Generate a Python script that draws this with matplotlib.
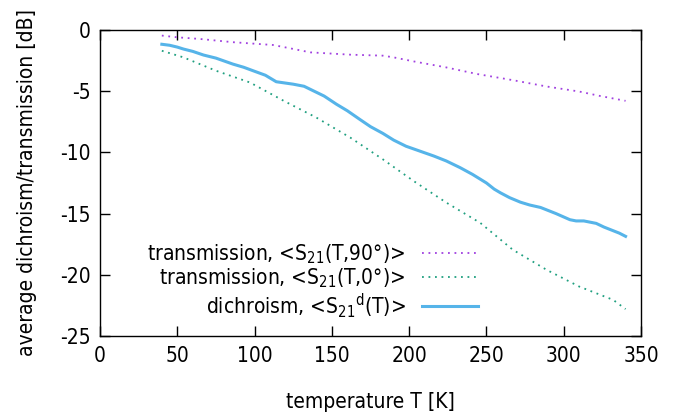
import matplotlib
matplotlib.use("Agg")
import matplotlib.pyplot as plt

# ---- data ----
T_dich = [40, 45, 50, 54, 60, 67, 75, 86, 93, 99, 107, 114, 125, 132, 138, 145, 153, 160,
          168, 175, 183, 190, 198, 207, 216, 224, 233, 241, 250, 255, 259, 265, 272, 278,
          285, 295, 304, 308, 313, 321, 326, 330, 336, 340]
S_dich = [-1.17, -1.25, -1.4, -1.56, -1.75, -2.05, -2.3, -2.79, -3.05, -3.33, -3.7, -4.23,
          -4.43, -4.6, -4.97, -5.4, -6.07, -6.6, -7.3, -7.9, -8.45, -9.0, -9.5, -9.9, -10.3,
          -10.7, -11.25, -11.8, -12.5, -13.0, -13.3, -13.7, -14.07, -14.3, -14.5, -15.0,
          -15.5, -15.6, -15.6, -15.8, -16.1, -16.3, -16.6, -16.86]

T_0 = [40, 54, 75, 97, 119, 140, 162, 183, 203, 224, 246, 267, 289, 310, 332, 340]
S_0 = [-1.7, -2.24, -3.33, -4.29, -5.8, -7.16, -8.8, -10.57, -12.35, -14.1, -15.76, -17.95,
       -19.6, -20.96, -22.05, -22.8]

T_90 = [40, 50, 65, 86, 112, 123, 136, 162, 183, 190, 203, 224, 244, 267, 289, 310, 323, 340]
S_90 = [-0.46, -0.6, -0.74, -1.0, -1.23, -1.5, -1.83, -2.02, -2.1, -2.24, -2.57, -3.06,
        -3.6, -4.1, -4.62, -5.03, -5.38, -5.79]

xticks = [0, 50, 100, 150, 200, 250, 300, 350]
yticks = [0, -5, -10, -15, -20, -25]

plt.rcParams['font.family'] = ['DejaVu Sans']
plt.rcParams['font.stretch'] = 'condensed'
plt.rcParams['mathtext.fontset'] = 'custom'
plt.rcParams['mathtext.rm'] = 'DejaVu Sans:stretch=condensed'
plt.rcParams['mathtext.default'] = 'rm'
plt.rcParams['axes.unicode_minus'] = False

FS = 15

fig = plt.figure(figsize=(6.93, 4.16), dpi=100)
ax = fig.add_axes([0.1443, 0.1923, 0.7807, 0.7357])

ax.plot(T_90, S_90, color='#a040e0', lw=1.3, ls=(0, (1, 2.6)),
        label='transmission, <S$_{21}$(T,90°)>')
ax.plot(T_0, S_0, color='#20a080', lw=1.3, ls=(0, (1, 2.6)),
        label='transmission, <S$_{21}$(T,0°)>')
ax.plot(T_dich, S_dich, color='#56b4e9', lw=2.2,
        label='dichroism, <S$_{21}$$^{d}$(T)>')

ax.set_xlim(0, 350)
ax.set_ylim(-25, 0)
ax.set_xticks(xticks)
ax.set_yticks(yticks)
ax.set_xticklabels([str(v) for v in xticks])
ax.set_yticklabels([str(v) for v in yticks])
ax.tick_params(direction='in', length=7.5, width=1, top=True, right=True,
               labelsize=FS, pad=7)
for s in ax.spines.values():
    s.set_linewidth(1)

ax.set_xlabel('temperature T [K]', fontsize=FS, labelpad=19)
ax.set_ylabel('average dichroism/transmission [dB]', fontsize=FS, labelpad=16)

ax.legend(loc='lower right', bbox_to_anchor=(0.715, 0.025), frameon=False,
          markerfirst=False, fontsize=FS, handlelength=2.7, labelspacing=0.05,
          borderaxespad=0, handletextpad=0.8)

fig.savefig('out.png', dpi=100)
